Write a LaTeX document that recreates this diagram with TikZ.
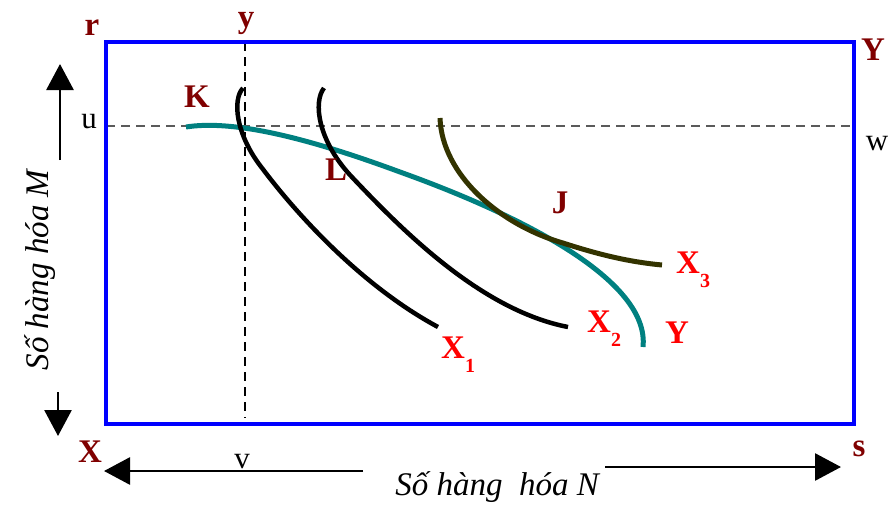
\documentclass[tikz,border=0pt]{standalone}
\usepackage{fontspec}
\setmainfont{Liberation Serif}
\usetikzlibrary{arrows.meta}
\definecolor{dred}{RGB}{128,0,0}
\definecolor{teal2}{RGB}{0,128,128}
\definecolor{olive2}{RGB}{51,51,0}
\definecolor{dgray}{RGB}{90,90,90}
\tikzset{
  lbl/.style={text=dred,font=\fontsize{33}{36}\selectfont\bfseries,inner sep=0pt},
  rlbl/.style={text=red,font=\fontsize{33}{36}\selectfont\bfseries,inner sep=0pt},
  plain/.style={text=black,font=\fontsize{31}{34}\selectfont,inner sep=0pt},
  axt/.style={text=black,font=\fontsize{33}{36}\selectfont\itshape,inner sep=0pt},
  frame/.style={draw=blue,line width=4pt},
  curveblk/.style={draw=black,line width=4.5pt},
  bigarrow/.style={line width=2.8pt,-{Triangle[width=27pt,length=26pt]}},
  dashv/.style={draw=black,line width=1.2pt,dash pattern=on 9pt off 6pt},
  dashh/.style={draw=dgray,line width=1.2pt,dash pattern=on 9pt off 6pt}
}
\begin{document}
\begin{tikzpicture}[x=1pt,y=-1pt]
\useasboundingbox (0,0) rectangle (896,509);
% dashed guides
\draw[dashv] (245,42) -- (245,418);
\draw[dashh] (106,126) -- (854,126);
% frame
\draw[frame] (106,42) rectangle (854,424);
% curves
\draw[draw=teal2,line width=5pt] (186,127) .. controls (230,120) and (300,135) .. (400,172) .. controls (520,215) and (650,280) .. (643,347);
\draw[curveblk] (243,88) .. controls (232,100) and (236,135) .. (262,168) .. controls (295,212) and (360,285) .. (438,327);
\draw[curveblk] (324,88) .. controls (313,102) and (318,140) .. (350,175) .. controls (400,228) and (480,310) .. (568,327);
\draw[draw=olive2,line width=5pt] (440,118) .. controls (442,175) and (500,225) .. (563,243) .. controls (600,255) and (630,262) .. (662,265);
% labels
\node[lbl] (r) at (92,28) {r};
\node[lbl] (yy) at (246,23) {y};
\node[lbl] (Yc) at (873,50) {Y};
\node[lbl] (Xc) at (90,452) {X};
\node[lbl] (s) at (859,449) {s};
\node[lbl] (K) at (197,97) {K};
\node[lbl] (L) at (336,170) {L};
\node[lbl] (J) at (560,203) {J};
\node[plain] (u) at (89,122) {u};
\node[plain] (w) at (877,144) {w};
\node[plain] (v) at (242,462) {v};
\node[rlbl,anchor=west] (X1) at (441,355) {X\raisebox{-0.42em}{\fontsize{20}{22}\selectfont 1}};
\node[rlbl,anchor=west] (X2) at (587,329) {X\raisebox{-0.42em}{\fontsize{20}{22}\selectfont 2}};
\node[rlbl,anchor=west] (X3) at (676,270) {X\raisebox{-0.42em}{\fontsize{20}{22}\selectfont 3}};
\node[rlbl] (Yr) at (677,333) {Y};
\node[axt] (N) at (497,487) {Số hàng\ \ hóa N};
\node[axt,rotate=90] (M) at (40,270) {Số hàng hóa M};
% arrows
\coordinate (au1) at (60,160);
\coordinate (au2) at (60,64);
\coordinate (ad1) at (58,392);
\coordinate (ad2) at (58,436);
\coordinate (al1) at (363,471);
\coordinate (al2) at (104,471);
\coordinate (ar1) at (605,467);
\coordinate (ar2) at (841,467);
\draw[bigarrow] (au1) -- (au2);
\draw[bigarrow] (ad1) -- (ad2);
\draw[bigarrow] (al1) -- (al2);
\draw[bigarrow] (ar1) -- (ar2);
\end{tikzpicture}
\end{document}
